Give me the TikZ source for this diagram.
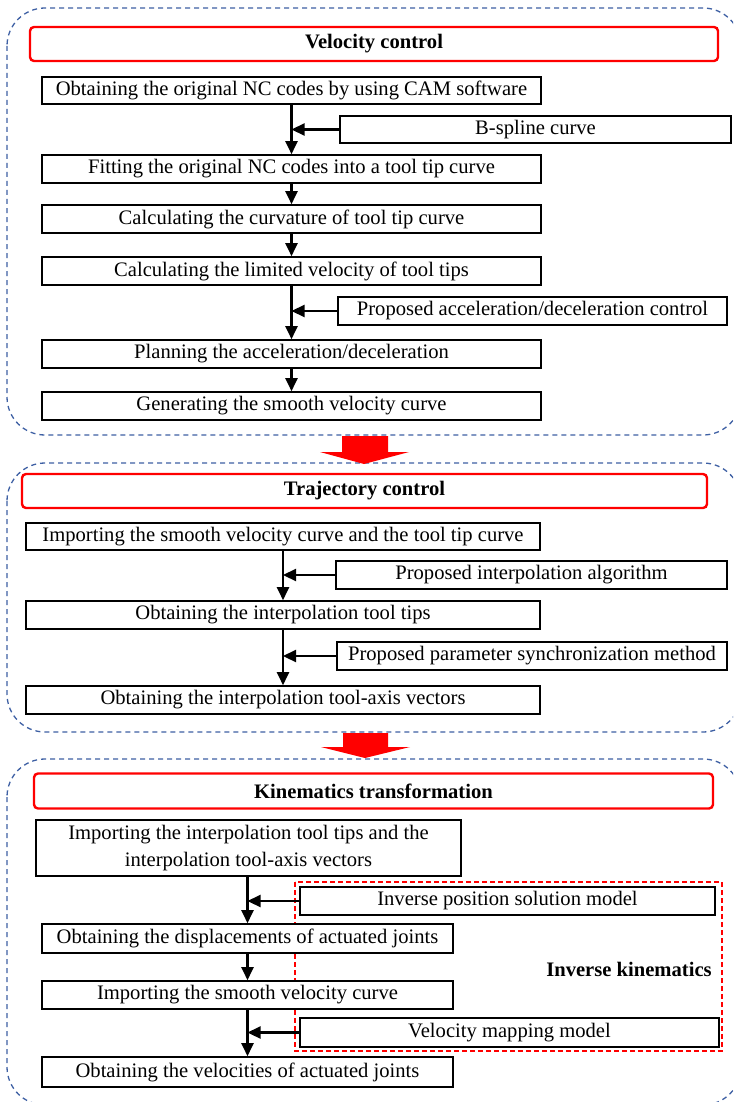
\documentclass[tikz,border=0pt]{standalone}
\usepackage{fontspec}
\setmainfont{Liberation Serif}
\usetikzlibrary{arrows.meta}
\definecolor{secblue}{RGB}{62,96,164}
\newcommand\fsz{\fontsize{20.6}{26}\selectfont}
\begin{document}
\begin{tikzpicture}[x=1pt,y=-1pt,
  every node/.style={font=\fsz},
  box/.style={draw, fill=white, line width=1.6pt, inner sep=0pt, align=center},
  titlebox/.style={draw=red, line width=2.4pt, rounded corners=4pt, inner sep=0pt, font=\fsz\bfseries},
  flow/.style={line width=2.2pt, -{Triangle[length=13pt,width=12pt]}},
  section/.style={draw=secblue, dash pattern=on 5pt off 4pt, line width=1.3pt, rounded corners=38pt},
  bigarrow/.style={fill=red}
]
\clip (0,0) rectangle (733,1102);
\fill[white] (0,0) rectangle (733,1102);

% sections
\draw[section] (7,8) rectangle (741,435);
\draw[section] (7,463) rectangle (741,732);
\draw[section] (7,759) rectangle (741,1105);

% ---------- Velocity control ----------
\node[titlebox, minimum width=688pt, minimum height=34pt] (t1) at (374,44) {Velocity control};
\node[box, minimum width=499pt, minimum height=27pt] (a1) at (291.5,90.5) {Obtaining the original NC codes by using CAM software};
\node[box, minimum width=391pt, minimum height=27pt] (s1) at (535.5,129.5) {B-spline curve};
\node[box, minimum width=499pt, minimum height=28pt] (a2) at (291.5,169) {Fitting the original NC codes into a tool tip curve};
\node[box, minimum width=499pt, minimum height=28pt] (a3) at (291.5,219) {Calculating the curvature of tool tip curve};
\node[box, minimum width=499pt, minimum height=28pt] (a4) at (291.5,271) {Calculating the limited velocity of tool tips};
\node[box, minimum width=389pt, minimum height=28pt] (s2) at (532.5,311) {Proposed acceleration/deceleration control};
\node[box, minimum width=499pt, minimum height=28pt] (a5) at (291.5,354) {Planning the acceleration/deceleration};
\node[box, minimum width=499pt, minimum height=28pt] (a6) at (291.5,406) {Generating the smooth velocity curve};

\draw[flow] (a1.south) -- (a2.north);
\draw[flow] (a2.south) -- (a3.north);
\draw[flow] (a3.south) -- (a4.north);
\draw[flow] (a4.south) -- (a5.north);
\draw[flow] (a5.south) -- (a6.north);
\draw[flow] (s1.west) -- (s1.west -| a1.south);
\draw[flow] (s2.west) -- (s2.west -| a4.south);

% ---------- Trajectory control ----------
\node[titlebox, minimum width=685pt, minimum height=34pt] (t2) at (364.5,491) {Trajectory control};
\node[box, minimum width=514pt, minimum height=27pt] (b1) at (283,536.5) {Importing the smooth velocity curve and the tool tip curve};
\node[box, minimum width=391pt, minimum height=28pt] (s3) at (531.5,575) {Proposed interpolation algorithm};
\node[box, minimum width=514pt, minimum height=28pt] (b2) at (283,615) {Obtaining the interpolation tool tips};
\node[box, minimum width=390pt, minimum height=28pt] (s4) at (532,656) {Proposed parameter synchronization method};
\node[box, minimum width=514pt, minimum height=28pt] (b3) at (283,700) {Obtaining the interpolation tool-axis vectors};

\draw[flow] (b1.south) -- (b2.north);
\draw[flow] (b2.south) -- (b3.north);
\draw[flow] (s3.west) -- (s3.west -| b1.south);
\draw[flow] (s4.west) -- (s4.west -| b2.south);

% ---------- Kinematics transformation ----------
\node[titlebox, minimum width=679pt, minimum height=35pt] (t3) at (373.5,791) {Kinematics transformation};
\draw[red, dash pattern=on 5pt off 3pt, line width=1.2pt] (295,882) rectangle (722,1051);
\node[box, minimum width=425pt, minimum height=56pt, font=\fontsize{20.6}{27}\selectfont] (k1) at (248.5,848) {Importing the interpolation tool tips and the\\interpolation tool-axis vectors};
\node[box, minimum width=415pt, minimum height=28pt] (s5) at (507.5,901) {Inverse position solution model};
\node[box, minimum width=411pt, minimum height=29pt] (k2) at (247.5,938.5) {Obtaining the displacements of actuated joints};
\node[box, minimum width=411pt, minimum height=28pt] (k3) at (247.5,995) {Importing the smooth velocity curve};
\node[box, minimum width=419pt, minimum height=29pt] (s6) at (509.5,1032.5) {Velocity mapping model};
\node[box, minimum width=411pt, minimum height=30pt] (k4) at (247.5,1072) {Obtaining the velocities of actuated joints};
\node[font=\fsz\bfseries] (ik) at (629,969) {Inverse kinematics};

\draw[flow] (k2.north |- k1.south) -- (k2.north);
\draw[flow] (k2.south) -- (k3.north);
\draw[flow] (k3.south) -- (k4.north);
\draw[flow] (s5.west) -- (s5.west -| k2.north);
\draw[flow] (s6.west) -- (s6.west -| k3.south);

% ---------- red block arrows between sections ----------
\fill[bigarrow] (342,436) -- (388,436) -- (388,452) -- (409,452) -- (364,464) -- (320,452) -- (342,452) -- cycle;
\fill[bigarrow] (343,733) -- (388,733) -- (388,747) -- (410,747) -- (365,758) -- (321,747) -- (343,747) -- cycle;
\end{tikzpicture}
\end{document}
